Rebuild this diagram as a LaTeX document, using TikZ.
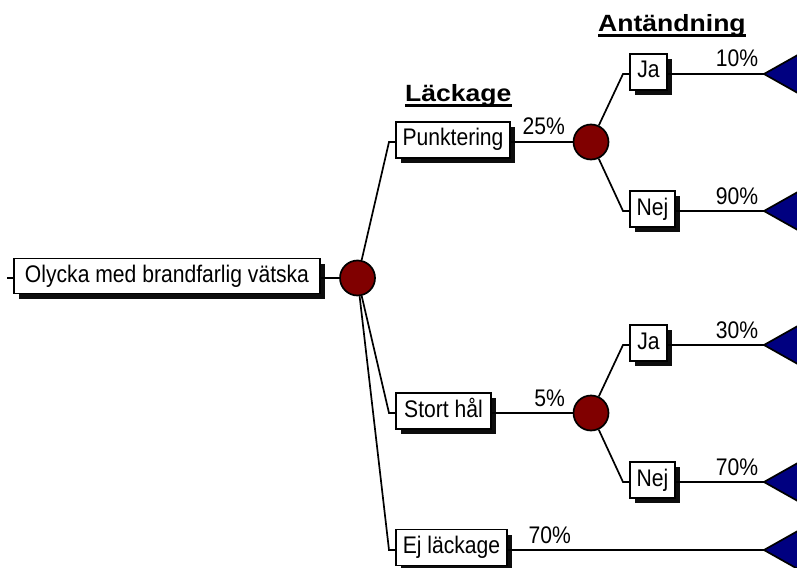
\documentclass[tikz,border=0pt]{standalone}
\usepackage{fontspec}
\setmainfont{Liberation Sans}
\newfontfamily\boxfont[FakeStretch=0.88]{Liberation Sans}
\newfontfamily\headfont[FakeStretch=1.13]{Liberation Sans}
\usetikzlibrary{shadows}
\definecolor{chancered}{RGB}{128,0,0}
\definecolor{termblue}{RGB}{0,0,128}
\tikzset{
  evbox/.style={draw, line width=1.7pt, fill=white, inner sep=0pt, minimum height=36pt,
    text height=17pt, text depth=5pt, font=\boxfont\fontsize{24}{26}\selectfont,
    drop shadow={shadow xshift=5pt, shadow yshift=-5pt, fill=black, opacity=0.95}},
  chance/.style={circle, draw, line width=1.7pt, fill=chancered, minimum size=35pt, inner sep=0pt},
  conn/.style={line width=1.7pt},
  pct/.style={font=\boxfont\fontsize{24}{26}\selectfont, inner sep=0pt},
  term/.style={draw, line width=1.7pt, fill=termblue, line join=miter},
  head/.style={font=\headfont\bfseries\fontsize{23.5}{26}\selectfont, inner sep=0pt, anchor=base west},
  uline/.style={line width=2.5pt}
}
\begin{document}
\begin{tikzpicture}[x=1pt, y=-1pt]
\clip (0,0) rectangle (797,567);
\fill[white] (0,0) rectangle (797,567);

% headers
\node[head] (h1) at (405,102) {Läckage};
\draw[uline] ([yshift=-3.5pt]h1.base west) -- ([yshift=-3.5pt]h1.base east);
\node[head] (h2) at (598,32) {Antändning};
\draw[uline] ([yshift=-3.5pt]h2.base west) -- ([yshift=-3.5pt]h2.base east);

% root
\node[evbox, minimum width=306pt, minimum height=35pt] (main) at (167,276) {Olycka med brandfarlig vätska};
\coordinate (s0) at (7,278);
\node[chance] (c0) at (357.5,278) {};
\draw[conn] (s0) -- (main.west |- s0);
\draw[conn] (main.east |- c0) -- (c0);

% first level
\node[evbox, minimum width=114pt] (p1) at (453,140) {Punktering};
\node[evbox, minimum width=95pt] (p2) at (443.5,411) {Stort hål};
\node[evbox, minimum width=111pt] (p3) at (451.5,547.5) {Ej läckage};
\coordinate (k1) at (389,142);
\coordinate (k2) at (389,413);
\coordinate (k3) at (389,550);
\draw[conn] (c0) -- (k1) -- (p1.west |- k1);
\draw[conn] (c0) -- (k2) -- (p2.west |- k2);
\draw[conn] (c0) -- (k3) -- (p3.west |- k3);

\node[chance] (c1) at (591,142) {};
\node[chance] (c2) at (591,413) {};
\coordinate (t5) at (764,550);
\draw[conn] (p1.east |- c1) -- node[pct, pos=1, anchor=base east, xshift=-7pt, yshift=7pt] (l1) {25\%} (c1);
\draw[conn] (p2.east |- c2) -- node[pct, pos=1, anchor=base east, xshift=-7pt, yshift=7pt] (l2) {5\%} (c2);
\draw[conn] (p3.east |- t5) -- node[pct, pos=0, anchor=base west, xshift=20pt, yshift=7pt] (l3) {70\%} (t5);

% second level
\node[evbox, minimum width=37pt] (ja1) at (648.5,72) {Ja};
\node[evbox, minimum width=45pt] (nej1) at (652.5,209) {Nej};
\node[evbox, minimum width=37pt] (ja2) at (648.5,343) {Ja};
\node[evbox, minimum width=45pt] (nej2) at (652.5,480) {Nej};
\coordinate (q1) at (623,74);
\coordinate (q2) at (623,211);
\coordinate (q3) at (623,345);
\coordinate (q4) at (623,482);
\draw[conn] (c1) -- (q1) -- (ja1.west |- q1);
\draw[conn] (c1) -- (q2) -- (nej1.west |- q2);
\draw[conn] (c2) -- (q3) -- (ja2.west |- q3);
\draw[conn] (c2) -- (q4) -- (nej2.west |- q4);

\coordinate (t1) at (764,74);
\coordinate (t2) at (764,211);
\coordinate (t3) at (764,345);
\coordinate (t4) at (764,482);
\draw[conn] (ja1.east |- t1) -- node[pct, pos=1, anchor=base east, xshift=-5pt, yshift=7pt] (l4) {10\%} (t1);
\draw[conn] (nej1.east |- t2) -- node[pct, pos=1, anchor=base east, xshift=-5pt, yshift=7pt] (l5) {90\%} (t2);
\draw[conn] (ja2.east |- t3) -- node[pct, pos=1, anchor=base east, xshift=-5pt, yshift=7pt] (l6) {30\%} (t3);
\draw[conn] (nej2.east |- t4) -- node[pct, pos=1, anchor=base east, xshift=-5pt, yshift=7pt] (l7) {70\%} (t4);

% terminal triangles
\foreach \t in {t1,t2,t3,t4,t5}
  \draw[term] (\t) -- ++(40,-22.5) -- ++(0,45) -- cycle;
\end{tikzpicture}
\end{document}
